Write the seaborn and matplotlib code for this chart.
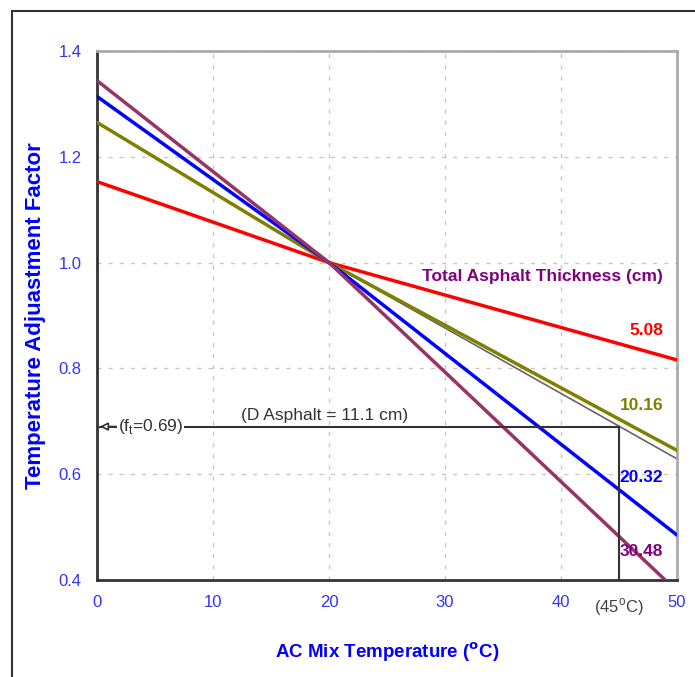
import pandas as pd
import matplotlib.pyplot as plt
import matplotlib.patches as patches
import seaborn as sns

temps = [0, 20, 50]

# Adjustment factor per total asphalt thickness (cm)
thick_5_08 = [1.153, 1.0, 0.816]
thick_10_16 = [1.265, 1.0, 0.645]
thick_20_32 = [1.314, 1.0, 0.485]
thick_30_48 = [1.344, 1.0, 0.379]

# interpolated line for 11.1 cm
interp_temps = [20, 50]
interp_11_1 = [1.0, 0.629]

thickness_labels = ['5.08', '10.16', '20.32', '30.48']
line_colors = ['#ff0000', '#808000', '#0000ff', '#993366']
label_colors = ['#ff0000', '#808000', '#0000ff', '#800080']
label_y = [0.872, 0.730, 0.594, 0.453]

x_ticks = [0, 10, 20, 30, 40, 50]
y_ticks = [0.4, 0.6, 0.8, 1.0, 1.2, 1.4]

design_temp = 45
design_factor = 0.69


def build_frame():
    rows = []
    for label, vals in zip(thickness_labels,
                           [thick_5_08, thick_10_16, thick_20_32, thick_30_48]):
        for t, v in zip(temps, vals):
            rows.append({'temp': t, 'factor': v, 'thickness': label})
    return pd.DataFrame(rows)


def plot_chart():
    sns.set_style('white')
    plt.rcParams['font.family'] = ['Liberation Sans', 'DejaVu Sans']
    plt.rcParams['mathtext.fontset'] = 'custom'
    plt.rcParams['mathtext.rm'] = 'Liberation Sans'

    fig = plt.figure(figsize=(6.95, 6.77), dpi=100)
    ax = fig.add_axes([0.1396, 0.1433, 0.8344, 0.7814])

    # outer frame (only left/top visible)
    fig.patches.append(patches.Rectangle((12 / 695, -0.05), 1.2, (677 - 11) / 677 + 0.05,
                                         transform=fig.transFigure, fill=False,
                                         edgecolor='#333333', linewidth=1.5))

    data = build_frame()
    sns.lineplot(data=data, x='temp', y='factor', hue='thickness',
                 palette=dict(zip(thickness_labels, line_colors)),
                 linewidth=2.5, legend=False, ax=ax, zorder=3)
    sns.lineplot(x=interp_temps, y=interp_11_1, color='#666666', linewidth=1.2,
                 ax=ax, zorder=2)

    # design temperature construction lines
    ax.plot([0, design_temp], [design_factor, design_factor], color='#333333',
            linewidth=1.5, zorder=4)
    ax.plot([design_temp, design_temp], [0.4, design_factor], color='#333333',
            linewidth=1.5, zorder=4)
    ax.annotate('', xy=(0, design_factor), xytext=(1.9, design_factor),
                arrowprops=dict(arrowstyle='-|>', color='#333333', fc='white',
                                lw=1.2, mutation_scale=12), zorder=5)
    ax.text(1.8, design_factor, r'(f$_\mathrm{t}$=0.69)', ha='left', va='center',
            fontsize=12.5, color='#333333', zorder=6,
            bbox=dict(facecolor='white', edgecolor='none', pad=0.5))
    ax.text(19.6, 0.697, '(D Asphalt = 11.1 cm)', ha='center', va='bottom',
            fontsize=12.5, color='#333333')

    # legend-like labels
    ax.text(48.8, 0.973, 'Total Asphalt Thickness (cm)', ha='right', va='center',
            fontsize=12.5, fontweight='bold', color='#800080')
    for label, color, y in zip(thickness_labels, label_colors, label_y):
        ax.text(48.8, y, label, ha='right', va='center', fontsize=12.5,
                fontweight='bold', color=color)

    ax.set_xlim(0, 50)
    ax.set_ylim(0.4, 1.4)
    ax.set_xticks(x_ticks)
    ax.set_yticks(y_ticks)
    ax.set_yticklabels([f'{v:.1f}' for v in y_ticks])
    ax.tick_params(axis='both', colors='#333333', labelcolor='#3333ff',
                   labelsize=12, direction='out', length=4, width=1.5, pad=7)
    ax.text(design_temp, -0.03, r'(45$^\mathrm{o}$C)', transform=ax.get_xaxis_transform(),
            ha='center', va='top', fontsize=12, color='#444444')

    ax.grid(True, linestyle=(0, (3, 5)), color='#c8c8c8', linewidth=1)
    for side in ['left', 'bottom']:
        ax.spines[side].set_color('#333333')
        ax.spines[side].set_linewidth(2)
    for side in ['top', 'right']:
        ax.spines[side].set_color('#aaaaaa')
        ax.spines[side].set_linewidth(2)

    ax.set_xlabel(r'AC Mix Temperature ($^\mathbf{o}$C)', fontsize=13.5, fontweight='bold',
                  color='#0000ff', labelpad=22)
    ax.set_ylabel('Temperature Adjuastment Factor', fontsize=16, fontweight='bold',
                  color='#0000ff', labelpad=9)

    fig.savefig('out.png', dpi=100)


if __name__ == '__main__':
    plot_chart()
